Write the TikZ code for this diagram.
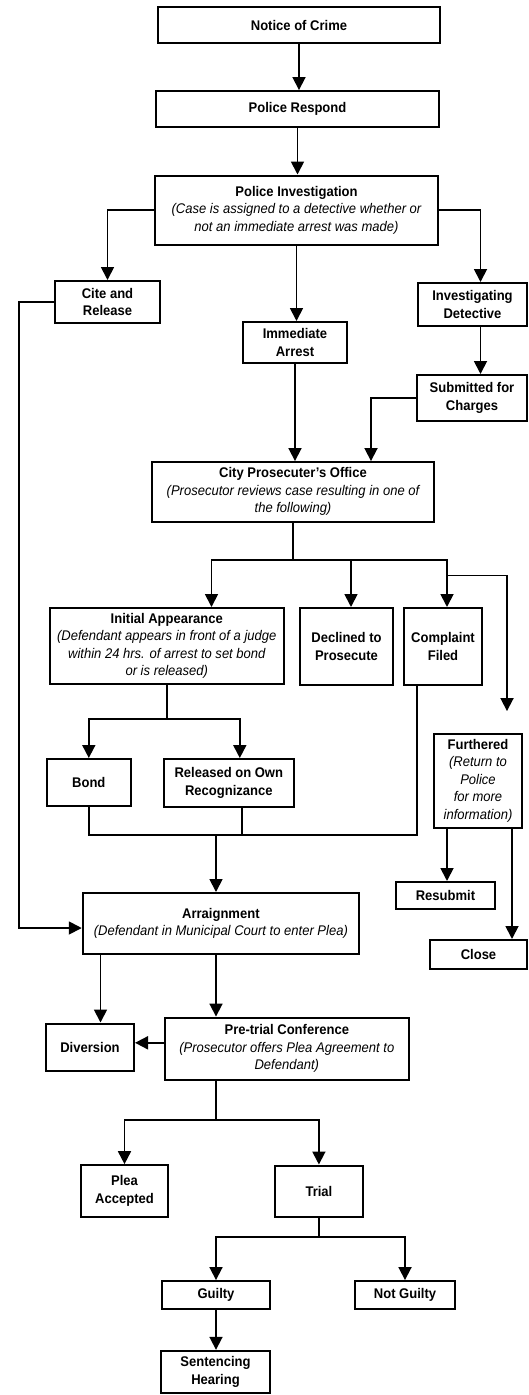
\documentclass[tikz,border=0pt]{standalone}
\usepackage{fontspec}
\setmainfont[FakeStretch=0.93]{Liberation Sans}
\usetikzlibrary{calc}
\usetikzlibrary{arrows.meta}
\newcommand{\desc}[1]{{\mdseries\itshape #1}}

\begin{document}
\begin{tikzpicture}[x=1pt,y=-1pt,
  box/.style={draw,line width=2pt,inner sep=0pt,align=center,font=\fontsize{14}{17.5}\selectfont\bfseries},
  arr/.style={line width=1.8pt,-{Triangle[length=13pt,width=13pt]}},
  wire/.style={line width=1.8pt}]

\useasboundingbox (0,0) rectangle (529,1395);

\node[box,minimum width=282,minimum height=36] (notice) at (299,25) {Notice of Crime};
\node[box,minimum width=283,minimum height=35.5] (respond) at (297.5,108.8) {Police Respond};
\node[box,minimum width=283,minimum height=69] (invest) at (296.5,210) {Police Investigation\\ \desc{(Case is assigned to a detective whether or}\\ \desc{not an immediate arrest was made)}};
\node[box,minimum width=105,minimum height=42] (cite) at (107.5,302) {Cite and\\ Release};
\node[box,minimum width=104.5,minimum height=41] (arrest) at (295,342.5) {Immediate\\ Arrest};
\node[box,minimum width=109,minimum height=43] (detective) at (472.5,304.5) {Investigating\\ Detective};
\node[box,minimum width=110,minimum height=46] (submitted) at (472,398) {Submitted for\\ Charges};
\node[box,minimum width=281.5,minimum height=59.5] (city) at (293,491.8) {City Prosecuter’s Office\\ \desc{(Prosecutor reviews case resulting in one of}\\ \desc{the following)}};
\node[box,minimum width=233.5,minimum height=76] (initial) at (166.8,646) {Initial Appearance\\ \desc{(Defendant appears in front of a judge}\\ \desc{within 24 hrs. of arrest to set bond}\\ \desc{or is released)}};
\node[box,minimum width=93,minimum height=77] (declined) at (346.5,646.5) {Declined to\\ Prosecute};
\node[box,minimum width=78,minimum height=77] (complaint) at (443,646.5) {Complaint\\ Filed};
\node[box,minimum width=87.5,minimum height=93.5] (furthered) at (478,780.8) {Furthered\\ \desc{(Return to}\\ \desc{Police}\\ \desc{for more}\\ \desc{information)}};
\node[box,minimum width=83.5,minimum height=47] (bond) at (88.8,782.5) {Bond};
\node[box,minimum width=129.5,minimum height=47.5] (released) at (228.8,782.8) {Released on Own\\ Recognizance};
\node[box,minimum width=99,minimum height=27] (resubmit) at (445.5,895.5) {Resubmit};
\node[box,minimum width=97,minimum height=28.6] (close) at (478.5,954.3) {Close};
\node[box,minimum width=276.3,minimum height=61] (arraign) at (220.9,923.5) {Arraignment\\ \desc{(Defendant in Municipal Court to enter Plea)}};
\node[box,minimum width=88,minimum height=47] (diversion) at (90,1047) {Diversion};
\node[box,minimum width=244.4,minimum height=62.5] (pretrial) at (286.8,1048.8) {Pre-trial Conference\\ \desc{(Prosecutor offers Plea Agreement to}\\ \desc{Defendant)}};
\node[box,minimum width=87,minimum height=51.7] (plea) at (124.5,1191) {Plea\\ Accepted};
\node[box,minimum width=87.7,minimum height=51] (trial) at (318.9,1191) {Trial};
\node[box,minimum width=108,minimum height=27.5] (guilty) at (216,1294.8) {Guilty};
\node[box,minimum width=100,minimum height=27.5] (notguilty) at (405,1294.8) {Not Guilty};
\node[box,minimum width=109,minimum height=42.4] (sentencing) at (215.5,1372) {Sentencing\\ Hearing};

\coordinate (fork1) at (293,560);
\coordinate (fork2) at (447,575.5);
\coordinate (fork3) at (166.8,719);
\coordinate (join1) at (216,835);
\coordinate (fork4) at (216,1120);
\coordinate (fork5) at (318.9,1237);

\draw[arr] (notice.south) -- (notice.south |- respond.north);
\draw[arr] (respond.south) -- (respond.south |- invest.north);
\draw[arr] (invest.west) -| (cite.north);
\draw[arr] (invest.east) -| ([xshift=8]detective.north);
\draw[arr] (invest.south) -- (invest.south |- arrest.north);
\draw[arr] ([xshift=8]detective.south) -- ([xshift=8]detective.south |- submitted.north);
\draw[arr] (arrest.south) -- (arrest.south |- city.north);
\draw[arr] (submitted.west) -| ([xshift=78]city.north);

\draw[wire] (city.south) -- (fork1);
\draw[arr] (fork1) -| ([xshift=44.7]initial.north);
\draw[arr] (fork1) -| ([xshift=4.5]declined.north);
\draw[arr] (fork1) -| ([xshift=4]complaint.north);
\draw[arr,shorten >=22pt] (fork2) -| ([xshift=29]furthered.north);

\draw[wire] (initial.south) -- (fork3);
\draw[arr] (fork3) -| (bond.north);
\draw[arr] (fork3) -| ([xshift=11]released.north);
\draw[wire] (bond.south) -- (bond.south |- join1) -- ([xshift=-26]complaint.south |- join1) -- ([xshift=-26]complaint.south);
\draw[wire] ([xshift=13]released.south) -- ([xshift=13]released.south |- join1);
\draw[arr] (join1) -- (join1 |- arraign.north);
\draw[arr] (cite.west) -- ++(-35,0) |- ([yshift=-4.5]arraign.west);

\draw[arr] ([xshift=-31]furthered.south) -- ([xshift=-31]furthered.south |- resubmit.north);
\draw[arr] ([xshift=34]furthered.south) -- ([xshift=34]furthered.south |- close.north);

\draw[arr] ([xshift=-120.4]arraign.south) -- ([xshift=-120.4]arraign.south |- diversion.north);
\draw[arr] ([xshift=-4.9]arraign.south) -- ([xshift=-4.9]arraign.south |- pretrial.north);
\draw[arr] ([yshift=6]pretrial.west) -- ([yshift=6]pretrial.west -| diversion.east);

\draw[wire] ([xshift=-70.8]pretrial.south) -- (fork4);
\draw[arr] (fork4) -| (plea.north);
\draw[arr] (fork4) -| (trial.north);
\draw[wire] (trial.south) -- (fork5);
\draw[arr] (fork5) -| (guilty.north);
\draw[arr] (fork5) -| (notguilty.north);
\draw[arr] (guilty.south) -- (guilty.south |- sentencing.north);
\end{tikzpicture}
\end{document}
